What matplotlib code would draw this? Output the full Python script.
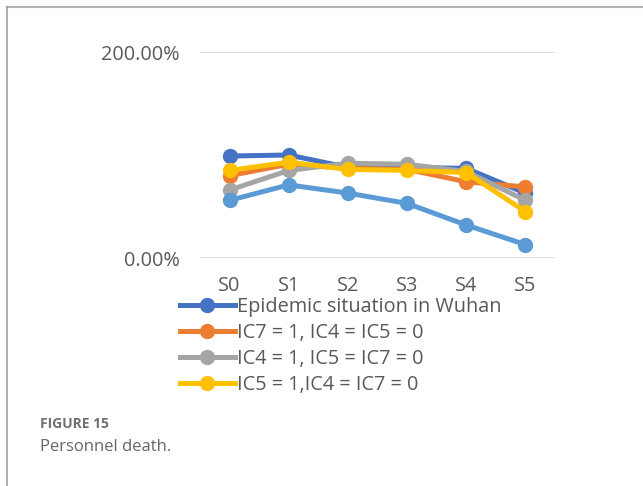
import matplotlib
matplotlib.use('Agg')
import matplotlib.pyplot as plt
from matplotlib.lines import Line2D

plt.rcParams['font.family'] = ['Open Sans', 'DejaVu Sans']

# 数据
stages = ['S0', 'S1', 'S2', 'S3', 'S4', 'S5']
wuhan = [99, 100, 88, 88, 87, 63]
ic7 = [80, 91, 87, 86, 74, 69]
ic4 = [66, 85, 92, 91, 84, 56]
ic5 = [85, 93, 86, 85, 83, 45]
extra = [56, 71, 63, 53, 32, 13]
labels = ['Epidemic situation in Wuhan', 'IC7 = 1, IC4 = IC5 = 0',
          'IC4 = 1, IC5 = IC7 = 0', 'IC5 = 1,IC4 = IC7 = 0']
colors = ['#4472C4', '#ED7D31', '#A5A5A5', '#FFC000', '#5B9BD5']

fig = plt.figure(figsize=(6.43, 4.86), dpi=100)
ax = fig.add_axes([200 / 643, 1 - 258 / 486, 355 / 643, 206 / 486])

x = range(len(stages))
for vals, c in zip([wuhan, ic7, ic4, ic5, extra], colors):
    ax.plot(x, vals, color=c, linewidth=3.6, marker='o', markersize=10,
            solid_capstyle='round', clip_on=False)

ax.set_xlim(-0.5, 5.5)
ax.set_ylim(0, 200)
ax.set_yticks([0, 200])
ax.set_yticklabels(['0.00%', '200.00%'])
ax.set_xticks(list(x))
ax.set_xticklabels(stages)
ax.tick_params(length=0, labelsize=14.3, labelcolor='#595959')
ax.tick_params(axis='y', pad=14.5)
ax.tick_params(axis='x', pad=13)
for s in ax.spines.values():
    s.set_visible(False)
ax.yaxis.grid(True, color='#D9D9D9', linewidth=1.3)
ax.set_axisbelow(True)

handles = [Line2D([], [], color=c, linewidth=3.6, marker='o', markersize=10)
           for c in colors[:4]]
fig.legend(handles, labels, loc='upper left',
           bbox_to_anchor=(180 / 643, 1 - 297 / 486), frameon=False,
           fontsize=14.3, handlelength=2.75, handletextpad=0.1,
           labelspacing=0.3, borderpad=0, borderaxespad=0,
           labelcolor='#595959')

# 外框
fig.add_artist(Line2D([7 / 643, 1], [1 - 7 / 486, 1 - 7 / 486],
                      color='#B0B0B0', linewidth=1.5))
fig.add_artist(Line2D([7 / 643, 7 / 643], [0, 1 - 7 / 486],
                      color='#A0A0A0', linewidth=1.2))

fig.text(40 / 643, 1 - 424 / 486, 'FIGURE 15', fontsize=10,
         fontweight='bold', color='#707070', va='center')
fig.text(40 / 643, 1 - 447 / 486, 'Personnel death.', fontsize=12,
         color='#666666', va='center')

fig.savefig('out.png', dpi=100)
